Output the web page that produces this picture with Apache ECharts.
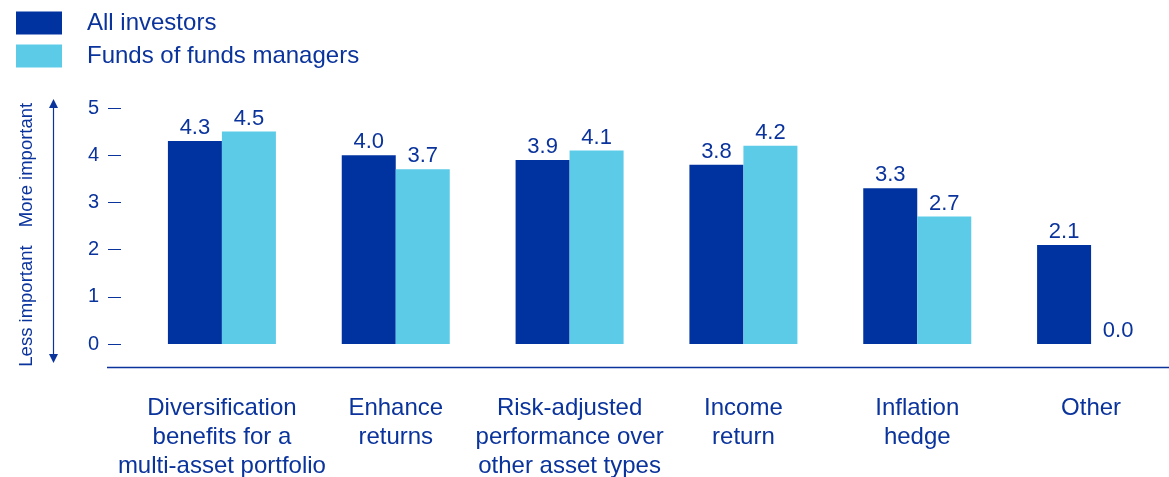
<!DOCTYPE html>
<html>
<head>
<meta charset="utf-8">
<script src="https://cdn.jsdelivr.net/npm/echarts@6/dist/echarts.min.js"></script>
<style>
  html, body { margin: 0; padding: 0; background: #fff; }
  #chart { width: 1169px; height: 477px; }
</style>
</head>
<body>
<div id="chart"></div>
<script>
// Reasons for investing, average importance score (0 = less, 5 = more important)
const categories = [
  'Diversification\nbenefits for a\nmulti-asset portfolio',
  'Enhance\nreturns',
  'Risk-adjusted\nperformance over\nother asset types',
  'Income\nreturn',
  'Inflation\nhedge',
  'Other'
];
const allInvestors = [4.3, 4.0, 3.9, 3.8, 3.3, 2.1];
const fundsOfFunds = [4.5, 3.7, 4.1, 4.2, 2.7, 0.0];
const seriesNames = ['All investors', 'Funds of funds managers'];

const DARK = '#0033a0';
const LIGHT = '#5bcbe8';
const TEXT = '#0a339c';
const FONT = '"Liberation Sans", Arial, sans-serif';

const chart = echarts.init(document.getElementById('chart'));

const barLabel = {
  show: true,
  position: 'top',
  distance: 2,
  color: TEXT,
  fontSize: 22,
  fontFamily: FONT,
  formatter: p => p.value.toFixed(1)
};

chart.setOption({
  animation: false,
  textStyle: { fontFamily: FONT },
  legend: {
    orient: 'vertical',
    left: 11,
    top: 6,
    itemWidth: 46,
    itemHeight: 23,
    itemGap: 9,
    icon: 'rect',
    textStyle: { color: TEXT, fontSize: 24, fontFamily: FONT, padding: [0, 0, 0, 20] },
    data: seriesNames
  },
  grid: { left: 135, right: -9, top: 108, bottom: 133, outerBoundsMode: 'none' },
  xAxis: {
    type: 'category',
    data: categories,
    axisLine: { show: false },
    axisTick: { show: false },
    axisLabel: {
      color: TEXT,
      fontSize: 24,
      fontFamily: FONT,
      lineHeight: 29,
      margin: 50,
      interval: 0
    }
  },
  yAxis: {
    type: 'value',
    min: 0,
    max: 5,
    interval: 1,
    offset: 14,
    splitLine: { show: false },
    axisLine: { show: false },
    axisTick: { show: true, length: 13, lineStyle: { color: TEXT, width: 1 } },
    axisLabel: { color: TEXT, fontSize: 20, fontFamily: FONT, margin: 22 }
  },
  series: [
    {
      name: seriesNames[0],
      type: 'bar',
      data: allInvestors,
      barWidth: 54,
      barGap: '0%',
      itemStyle: { color: DARK },
      label: barLabel
    },
    {
      name: seriesNames[1],
      type: 'bar',
      data: fundsOfFunds,
      barWidth: 54,
      barGap: '0%',
      itemStyle: { color: LIGHT },
      label: barLabel
    }
  ],
  graphic: [
    // baseline under the bars
    { type: 'line', shape: { x1: 107, y1: 367.5, x2: 1169, y2: 367.5 }, style: { stroke: TEXT, lineWidth: 1.5 } },
    // importance arrow
    { type: 'line', shape: { x1: 53.5, y1: 104, x2: 53.5, y2: 358 }, style: { stroke: TEXT, lineWidth: 1.2 } },
    { type: 'polygon', shape: { points: [[53.5, 99], [49, 108], [58, 108]] }, style: { fill: TEXT } },
    { type: 'polygon', shape: { points: [[53.5, 363], [49, 354], [58, 354]] }, style: { fill: TEXT } },
    {
      type: 'text', x: 27, y: 165, rotation: Math.PI / 2,
      style: { text: 'More important', fill: TEXT, font: '18.5px ' + FONT, align: 'center', verticalAlign: 'middle' }
    },
    {
      type: 'text', x: 27, y: 306, rotation: Math.PI / 2,
      style: { text: 'Less important', fill: TEXT, font: '18.5px ' + FONT, align: 'center', verticalAlign: 'middle' }
    }
  ]
});
</script>
</body>
</html>
